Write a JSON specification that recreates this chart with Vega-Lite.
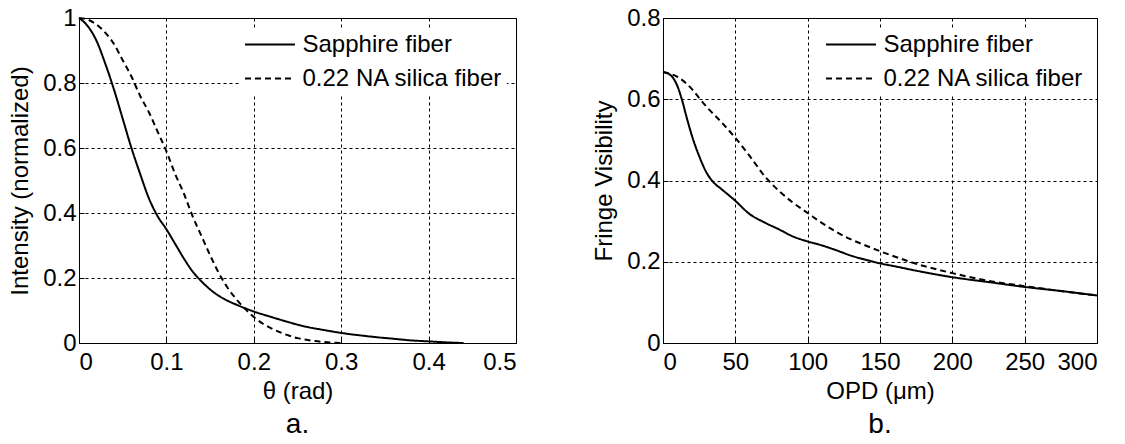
{
  "$schema": "https://vega.github.io/schema/vega-lite/v6.json",
  "background": "white",
  "padding": {"left": 8, "top": 5, "right": 5, "bottom": 0},
  "datasets": {
    "theta": [
      {"x": 0, "y": 1.0, "series": "Sapphire fiber"},
      {"x": 0.01, "y": 0.975, "series": "Sapphire fiber"},
      {"x": 0.02, "y": 0.93, "series": "Sapphire fiber"},
      {"x": 0.03, "y": 0.86, "series": "Sapphire fiber"},
      {"x": 0.04, "y": 0.78, "series": "Sapphire fiber"},
      {"x": 0.05, "y": 0.69, "series": "Sapphire fiber"},
      {"x": 0.06, "y": 0.6, "series": "Sapphire fiber"},
      {"x": 0.07, "y": 0.52, "series": "Sapphire fiber"},
      {"x": 0.08, "y": 0.445, "series": "Sapphire fiber"},
      {"x": 0.09, "y": 0.39, "series": "Sapphire fiber"},
      {"x": 0.1, "y": 0.35, "series": "Sapphire fiber"},
      {"x": 0.11, "y": 0.305, "series": "Sapphire fiber"},
      {"x": 0.12, "y": 0.26, "series": "Sapphire fiber"},
      {"x": 0.13, "y": 0.22, "series": "Sapphire fiber"},
      {"x": 0.14, "y": 0.19, "series": "Sapphire fiber"},
      {"x": 0.15, "y": 0.165, "series": "Sapphire fiber"},
      {"x": 0.16, "y": 0.145, "series": "Sapphire fiber"},
      {"x": 0.17, "y": 0.13, "series": "Sapphire fiber"},
      {"x": 0.18, "y": 0.118, "series": "Sapphire fiber"},
      {"x": 0.19, "y": 0.107, "series": "Sapphire fiber"},
      {"x": 0.2, "y": 0.097, "series": "Sapphire fiber"},
      {"x": 0.22, "y": 0.08, "series": "Sapphire fiber"},
      {"x": 0.24, "y": 0.064, "series": "Sapphire fiber"},
      {"x": 0.26, "y": 0.05, "series": "Sapphire fiber"},
      {"x": 0.28, "y": 0.04, "series": "Sapphire fiber"},
      {"x": 0.3, "y": 0.031, "series": "Sapphire fiber"},
      {"x": 0.32, "y": 0.024, "series": "Sapphire fiber"},
      {"x": 0.34, "y": 0.018, "series": "Sapphire fiber"},
      {"x": 0.36, "y": 0.013, "series": "Sapphire fiber"},
      {"x": 0.38, "y": 0.008, "series": "Sapphire fiber"},
      {"x": 0.4, "y": 0.005, "series": "Sapphire fiber"},
      {"x": 0.42, "y": 0.002, "series": "Sapphire fiber"},
      {"x": 0.44, "y": 0.0, "series": "Sapphire fiber"},
      {"x": 0, "y": 1.0, "series": "0.22 NA silica fiber"},
      {"x": 0.01, "y": 0.995, "series": "0.22 NA silica fiber"},
      {"x": 0.02, "y": 0.98, "series": "0.22 NA silica fiber"},
      {"x": 0.03, "y": 0.955, "series": "0.22 NA silica fiber"},
      {"x": 0.04, "y": 0.92, "series": "0.22 NA silica fiber"},
      {"x": 0.05, "y": 0.87, "series": "0.22 NA silica fiber"},
      {"x": 0.06, "y": 0.82, "series": "0.22 NA silica fiber"},
      {"x": 0.07, "y": 0.76, "series": "0.22 NA silica fiber"},
      {"x": 0.08, "y": 0.71, "series": "0.22 NA silica fiber"},
      {"x": 0.09, "y": 0.65, "series": "0.22 NA silica fiber"},
      {"x": 0.1, "y": 0.59, "series": "0.22 NA silica fiber"},
      {"x": 0.11, "y": 0.52, "series": "0.22 NA silica fiber"},
      {"x": 0.12, "y": 0.46, "series": "0.22 NA silica fiber"},
      {"x": 0.13, "y": 0.39, "series": "0.22 NA silica fiber"},
      {"x": 0.14, "y": 0.33, "series": "0.22 NA silica fiber"},
      {"x": 0.15, "y": 0.27, "series": "0.22 NA silica fiber"},
      {"x": 0.16, "y": 0.215, "series": "0.22 NA silica fiber"},
      {"x": 0.17, "y": 0.17, "series": "0.22 NA silica fiber"},
      {"x": 0.18, "y": 0.135, "series": "0.22 NA silica fiber"},
      {"x": 0.19, "y": 0.105, "series": "0.22 NA silica fiber"},
      {"x": 0.2, "y": 0.08, "series": "0.22 NA silica fiber"},
      {"x": 0.21, "y": 0.06, "series": "0.22 NA silica fiber"},
      {"x": 0.22, "y": 0.045, "series": "0.22 NA silica fiber"},
      {"x": 0.23, "y": 0.033, "series": "0.22 NA silica fiber"},
      {"x": 0.24, "y": 0.023, "series": "0.22 NA silica fiber"},
      {"x": 0.25, "y": 0.015, "series": "0.22 NA silica fiber"},
      {"x": 0.26, "y": 0.01, "series": "0.22 NA silica fiber"},
      {"x": 0.27, "y": 0.006, "series": "0.22 NA silica fiber"},
      {"x": 0.28, "y": 0.003, "series": "0.22 NA silica fiber"},
      {"x": 0.29, "y": 0.001, "series": "0.22 NA silica fiber"},
      {"x": 0.3, "y": 0.0, "series": "0.22 NA silica fiber"}
    ],
    "opd": [
      {"x": 0, "y": 0.667, "series": "Sapphire fiber"},
      {"x": 5, "y": 0.66, "series": "Sapphire fiber"},
      {"x": 10, "y": 0.632, "series": "Sapphire fiber"},
      {"x": 13, "y": 0.6, "series": "Sapphire fiber"},
      {"x": 16, "y": 0.56, "series": "Sapphire fiber"},
      {"x": 20, "y": 0.51, "series": "Sapphire fiber"},
      {"x": 25, "y": 0.46, "series": "Sapphire fiber"},
      {"x": 30, "y": 0.42, "series": "Sapphire fiber"},
      {"x": 35, "y": 0.395, "series": "Sapphire fiber"},
      {"x": 40, "y": 0.38, "series": "Sapphire fiber"},
      {"x": 50, "y": 0.35, "series": "Sapphire fiber"},
      {"x": 60, "y": 0.317, "series": "Sapphire fiber"},
      {"x": 70, "y": 0.297, "series": "Sapphire fiber"},
      {"x": 80, "y": 0.28, "series": "Sapphire fiber"},
      {"x": 90, "y": 0.262, "series": "Sapphire fiber"},
      {"x": 100, "y": 0.25, "series": "Sapphire fiber"},
      {"x": 110, "y": 0.24, "series": "Sapphire fiber"},
      {"x": 120, "y": 0.228, "series": "Sapphire fiber"},
      {"x": 130, "y": 0.215, "series": "Sapphire fiber"},
      {"x": 140, "y": 0.205, "series": "Sapphire fiber"},
      {"x": 150, "y": 0.196, "series": "Sapphire fiber"},
      {"x": 160, "y": 0.189, "series": "Sapphire fiber"},
      {"x": 175, "y": 0.178, "series": "Sapphire fiber"},
      {"x": 200, "y": 0.162, "series": "Sapphire fiber"},
      {"x": 225, "y": 0.15, "series": "Sapphire fiber"},
      {"x": 250, "y": 0.138, "series": "Sapphire fiber"},
      {"x": 275, "y": 0.128, "series": "Sapphire fiber"},
      {"x": 300, "y": 0.117, "series": "Sapphire fiber"},
      {"x": 0, "y": 0.667, "series": "0.22 NA silica fiber"},
      {"x": 10, "y": 0.655, "series": "0.22 NA silica fiber"},
      {"x": 20, "y": 0.625, "series": "0.22 NA silica fiber"},
      {"x": 25, "y": 0.603, "series": "0.22 NA silica fiber"},
      {"x": 30, "y": 0.582, "series": "0.22 NA silica fiber"},
      {"x": 40, "y": 0.545, "series": "0.22 NA silica fiber"},
      {"x": 50, "y": 0.505, "series": "0.22 NA silica fiber"},
      {"x": 60, "y": 0.46, "series": "0.22 NA silica fiber"},
      {"x": 70, "y": 0.412, "series": "0.22 NA silica fiber"},
      {"x": 80, "y": 0.375, "series": "0.22 NA silica fiber"},
      {"x": 90, "y": 0.345, "series": "0.22 NA silica fiber"},
      {"x": 100, "y": 0.32, "series": "0.22 NA silica fiber"},
      {"x": 110, "y": 0.295, "series": "0.22 NA silica fiber"},
      {"x": 120, "y": 0.273, "series": "0.22 NA silica fiber"},
      {"x": 130, "y": 0.255, "series": "0.22 NA silica fiber"},
      {"x": 140, "y": 0.24, "series": "0.22 NA silica fiber"},
      {"x": 150, "y": 0.226, "series": "0.22 NA silica fiber"},
      {"x": 160, "y": 0.213, "series": "0.22 NA silica fiber"},
      {"x": 175, "y": 0.195, "series": "0.22 NA silica fiber"},
      {"x": 200, "y": 0.172, "series": "0.22 NA silica fiber"},
      {"x": 225, "y": 0.153, "series": "0.22 NA silica fiber"},
      {"x": 250, "y": 0.14, "series": "0.22 NA silica fiber"},
      {"x": 275, "y": 0.128, "series": "0.22 NA silica fiber"},
      {"x": 300, "y": 0.117, "series": "0.22 NA silica fiber"}
    ]
  },
  "config": {
    "font": "Liberation Sans",
    "view": {"stroke": "black", "strokeWidth": 1},
    "axis": {
      "labelFont": "Liberation Sans", "titleFont": "Liberation Sans",
      "labelFontSize": 24, "titleFontSize": 24,
      "labelColor": "black", "titleColor": "black", "titleFontWeight": "normal",
      "domainColor": "black", "tickColor": "black", "tickSize": -5,
      "gridColor": "black", "gridDash": [3, 3], "gridOpacity": 1, "gridWidth": 1
    },
    "axisX": {"labelPadding": 12, "titlePadding": 5},
    "axisY": {"labelPadding": 8, "titlePadding": 10},
    "legend": {
      "symbolType": "M-2,0H2", "symbolSize": 625, "symbolStrokeWidth": 2, "symbolStrokeColor": "black",
      "symbolOffset": 12.5,
      "labelFont": "Liberation Sans", "labelFontSize": 24, "labelColor": "black", "labelOffset": 19, "labelLimit": 0,
      "fillColor": "white", "strokeColor": "white", "padding": 3, "rowPadding": 8, "offset": 10
    },
    "title": {"font": "Liberation Sans", "fontSize": 28, "fontWeight": "normal", "color": "black", "orient": "bottom", "offset": 8}
  },
  "hconcat": [
    {
      "width": 437, "height": 325,
      "title": {"text": "a."},
      "data": {"name": "theta"},
      "mark": {"type": "line", "interpolate": "monotone", "strokeWidth": 2, "color": "black"},
      "encoding": {
        "x": {"field": "x", "type": "quantitative", "scale": {"domain": [0, 0.5], "nice": false},
              "axis": {"title": "θ (rad)", "values": [0, 0.1, 0.2, 0.3, 0.4, 0.5], "format": "~g"}},
        "y": {"field": "y", "type": "quantitative", "scale": {"domain": [0, 1], "nice": false},
              "axis": {"title": "Intensity (normalized)", "values": [0, 0.2, 0.4, 0.6, 0.8, 1], "format": "~g"}},
        "strokeDash": {"field": "series", "type": "nominal",
              "scale": {"domain": ["Sapphire fiber", "0.22 NA silica fiber"], "range": [[1, 0], [6, 4]]},
              "legend": {"title": null, "orient": "top-right"}}
      }
    },
    {
      "width": 434, "height": 325,
      "title": {"text": "b."},
      "data": {"name": "opd"},
      "mark": {"type": "line", "interpolate": "monotone", "strokeWidth": 2, "color": "black"},
      "encoding": {
        "x": {"field": "x", "type": "quantitative", "scale": {"domain": [0, 300], "nice": false},
              "axis": {"title": "OPD (μm)", "values": [0, 50, 100, 150, 200, 250, 300], "format": "d"}},
        "y": {"field": "y", "type": "quantitative", "scale": {"domain": [0, 0.8], "nice": false},
              "axis": {"title": "Fringe Visibility", "values": [0, 0.2, 0.4, 0.6, 0.8], "format": "~g"}},
        "strokeDash": {"field": "series", "type": "nominal",
              "scale": {"domain": ["Sapphire fiber", "0.22 NA silica fiber"], "range": [[1, 0], [6, 4]]},
              "legend": {"title": null, "orient": "top-right"}}
      }
    }
  ],
  "spacing": 75,
  "resolve": {"scale": {"strokeDash": "independent"}, "legend": {"strokeDash": "independent"}}
}
